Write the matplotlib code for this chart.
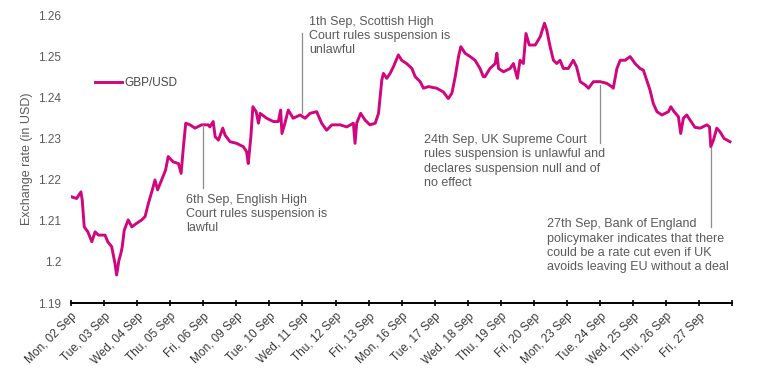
import numpy as np
import matplotlib
matplotlib.use('Agg')
import matplotlib.pyplot as plt

plt.rcParams['font.family'] = ['Liberation Sans', 'DejaVu Sans']

# Trading days shown on the x axis (one tick per day, plus a closing tick)
days = ['Mon, 02 Sep', 'Tue, 03 Sep', 'Wed, 04 Sep', 'Thu, 05 Sep', 'Fri, 06 Sep',
        'Mon, 09 Sep', 'Tue, 10 Sep', 'Wed, 11 Sep', 'Thu, 12 Sep', 'Fri, 13 Sep',
        'Mon, 16 Sep', 'Tue, 17 Sep', 'Wed, 18 Sep', 'Thu, 19 Sep', 'Fri, 20 Sep',
        'Mon, 23 Sep', 'Tue, 24 Sep', 'Wed, 25 Sep', 'Thu, 26 Sep', 'Fri, 27 Sep']

# GBP/USD intraday path, time in trading days since Mon 02 Sep open
t = [0.02, 0.17, 0.30, 0.34, 0.40, 0.51, 0.63, 0.73, 0.83, 1.03,
     1.11, 1.23, 1.33, 1.38, 1.45, 1.51, 1.55, 1.61, 1.73, 1.84,
     1.99, 2.14, 2.24, 2.34, 2.46, 2.54, 2.62, 2.74, 2.86, 2.94,
     3.09, 3.25, 3.33, 3.40, 3.47, 3.60, 3.75, 3.95, 4.15, 4.20,
     4.30, 4.36, 4.46, 4.59, 4.66, 4.81, 5.01, 5.21, 5.31, 5.36,
     5.44, 5.50, 5.60, 5.67, 5.72, 5.92, 6.12, 6.27, 6.34, 6.38,
     6.47, 6.57, 6.72, 6.93, 7.08, 7.23, 7.43, 7.58, 7.73, 7.89,
     8.14, 8.34, 8.54, 8.59, 8.64, 8.76, 8.89, 9.04, 9.20, 9.30,
     9.40, 9.45, 9.55, 9.65, 9.75, 9.90, 10.00, 10.15, 10.31, 10.41,
     10.56, 10.66, 10.81, 11.06, 11.26, 11.41, 11.52, 11.62, 11.72, 11.79,
     11.92, 12.07, 12.22, 12.37, 12.47, 12.52, 12.67, 12.83, 12.88, 12.93,
     13.08, 13.28, 13.38, 13.50, 13.58, 13.68, 13.76, 13.86, 14.04, 14.19,
     14.32, 14.39, 14.49, 14.59, 14.69, 14.79, 14.89, 15.04, 15.19, 15.29,
     15.40, 15.55, 15.65, 15.80, 16.00, 16.20, 16.35, 16.40, 16.51, 16.61,
     16.76, 16.91, 17.06, 17.21, 17.31, 17.41, 17.51, 17.61, 17.72, 17.87,
     18.07, 18.14, 18.24, 18.37, 18.44, 18.52, 18.62, 18.72, 18.87, 19.03,
     19.23, 19.31, 19.35, 19.43, 19.53, 19.63, 19.75, 19.93]

rate = [1.2158, 1.2154, 1.2170, 1.2150, 1.2085, 1.2073, 1.2049, 1.2073, 1.2065, 1.2065,
        1.2049, 1.2037, 1.1996, 1.1968, 1.2004, 1.2021, 1.2037, 1.2077, 1.2102, 1.2085,
        1.2094, 1.2102, 1.2110, 1.2142, 1.2175, 1.2199, 1.2175, 1.2199, 1.2223, 1.2256,
        1.2243, 1.2239, 1.2215, 1.2280, 1.2337, 1.2333, 1.2325, 1.2333, 1.2333, 1.2328,
        1.2341, 1.2304, 1.2296, 1.2325, 1.2308, 1.2292, 1.2288, 1.2280, 1.2268, 1.2239,
        1.2304, 1.2377, 1.2365, 1.2337, 1.2361, 1.2349, 1.2341, 1.2341, 1.2369, 1.2312,
        1.2337, 1.2369, 1.2349, 1.2357, 1.2349, 1.2361, 1.2365, 1.2337, 1.2320, 1.2333,
        1.2333, 1.2328, 1.2337, 1.2288, 1.2337, 1.2361, 1.2345, 1.2333, 1.2337, 1.2361,
        1.2442, 1.2458, 1.2446, 1.2458, 1.2474, 1.2503, 1.2490, 1.2482, 1.2470, 1.2450,
        1.2438, 1.2422, 1.2426, 1.2422, 1.2413, 1.2397, 1.2410, 1.2450, 1.2499, 1.2523,
        1.2507, 1.2499, 1.2490, 1.2470, 1.2450, 1.2450, 1.2470, 1.2482, 1.2507, 1.2470,
        1.2462, 1.2470, 1.2482, 1.2446, 1.2490, 1.2482, 1.2555, 1.2527, 1.2527, 1.2547,
        1.2580, 1.2563, 1.2523, 1.2490, 1.2482, 1.2490, 1.2470, 1.2470, 1.2490, 1.2474,
        1.2438, 1.2430, 1.2422, 1.2438, 1.2438, 1.2434, 1.2426, 1.2422, 1.2470, 1.2490,
        1.2490, 1.2499, 1.2482, 1.2470, 1.2466, 1.2442, 1.2418, 1.2385, 1.2365, 1.2357,
        1.2365, 1.2377, 1.2365, 1.2353, 1.2312, 1.2349, 1.2357, 1.2345, 1.2327, 1.2325,
        1.2333, 1.2328, 1.2280, 1.2296, 1.2325, 1.2316, 1.2300, 1.2292]

# Event notes: (connector x, connector y0, connector y1, text x, text y, text)
notes = [
    (4.0, 1.2333, 1.2180, 3.48, 1.2116,
     '6th Sep, English High\nCourt rules suspension is\nlawful'),
    (7.0, 1.2557, 1.2362, 7.21, 1.2549,
     '1th Sep, Scottish High\nCourt rules suspension is\nunlawful'),
    (16.0, 1.2430, 1.2289, 10.69, 1.2244,
     '24th Sep, UK Supreme Court\nrules suspension is unlawful and\n'
     'declares suspension null and of\nno effect'),
    (19.35, 1.2277, 1.2085, 14.39, 1.2039,
     '27th Sep, Bank of England\npolicymaker indicates that there\n'
     'could be a rate cut even if UK\navoids leaving EU without a deal'),
]

fig = plt.figure(figsize=(7.57, 3.78), dpi=100)
ax = fig.add_axes([71 / 757, 1 - 303 / 378, (732.3 - 71) / 757, (303 - 15) / 378])

ax.plot(t, rate, color='#d1067f', linewidth=2.1, label='GBP/USD',
        solid_joinstyle='round')

for x, y0, y1, tx, ty, txt in notes:
    ax.plot([x, x], [y0, y1], color='#8c8c8c', linewidth=0.9)
    ax.text(tx, ty, txt, ha='left', va='center', fontsize=9,
            color='#5a5a5a', linespacing=1.25)

ax.set_xlim(0, 20)
ax.set_ylim(1.19, 1.26)
ax.set_xticks(np.arange(len(days) + 1))
ax.set_xticklabels(days + [''], rotation=45, ha='right',
                   rotation_mode='anchor', fontsize=8.5, color='#3a3a3a')
ax.set_yticks(np.arange(1.19, 1.2601, 0.01))
ax.set_yticklabels(['1.19', '1.2', '1.21', '1.22', '1.23', '1.24', '1.25', '1.26'],
                   fontsize=8.5, color='#5a5a5a')
ax.tick_params(axis='y', length=0, pad=7)
ax.tick_params(axis='x', direction='inout', length=5, width=1.2, pad=3)
for side in ['top', 'right', 'left']:
    ax.spines[side].set_visible(False)
ax.spines['bottom'].set_linewidth(1.4)
ax.set_ylabel('Exchange rate (in USD)', fontsize=9, color='#5a5a5a', labelpad=4)

ax.legend(loc='center left', bbox_to_anchor=(95 / 757, 1 - 83 / 378),
          bbox_transform=fig.transFigure, frameon=False, fontsize=8.5,
          labelcolor='#444444', handlelength=2.3, handletextpad=0.15,
          borderpad=0, borderaxespad=0)

fig.savefig('out.png', dpi=100)
